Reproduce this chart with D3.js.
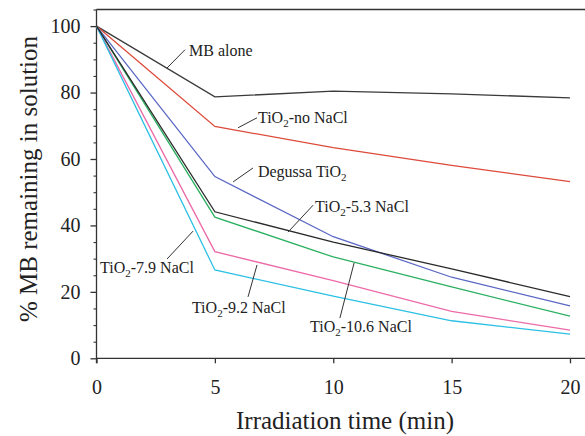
<!DOCTYPE html>
<html>
<head>
<meta charset="utf-8">
<script src="https://cdn.jsdelivr.net/npm/d3@7/dist/d3.min.js"></script>
<style>
  html, body { margin: 0; padding: 0; background: #fff; }
  svg { display: block; }
  svg text { font-family: "Liberation Serif", "Tinos", "Times New Roman", "DejaVu Serif", serif !important; fill: #222; }
</style>
</head>
<body>
<svg id="chart" width="585" height="436"></svg>
<script>
// ---- data ----
const times = [0, 5, 10, 15, 20];
const mbAlone   = [100, 78.7, 80.4, 79.6, 78.4];
const noNaCl    = [100, 69.8, 63.4, 58.1, 53.2];
const degussa   = [100, 54.7, 36.6, 24.4, 15.8];
const nacl53    = [100, 44.1, 35.0, 26.9, 18.6];
const nacl79    = [100, 26.6, 18.7, 11.3, 7.3];
const nacl92    = [100, 32.1, 23.4, 14.1, 8.5];
const nacl106   = [100, 42.5, 30.5, 21.5, 12.7];
const xTicks = [0, 5, 10, 15, 20];
const yTicks = [0, 20, 40, 60, 80, 100];
const yMinorTicks = [5, 10, 15, 25, 30, 35, 45, 50, 55, 65, 70, 75, 85, 90, 95, 105];

const series = [
  { name: "MB alone", values: mbAlone, color: "#3a3a3a" },
  { name: "TiO2-no NaCl", values: noNaCl, color: "#dd4a3a" },
  { name: "Degussa TiO2", values: degussa, color: "#5a67c4" },
  { name: "TiO2-10.6 NaCl", values: nacl106, color: "#2bb060" },
  { name: "TiO2-9.2 NaCl", values: nacl92, color: "#ec6aa8" },
  { name: "TiO2-7.9 NaCl", values: nacl79, color: "#2cc0e4" },
  { name: "TiO2-5.3 NaCl", values: nacl53, color: "#2a2a2a" }
];

// annotations: label parts [main, subscript, rest], text anchor and leader in data units
const annotations = [
  { parts: ["MB alone", "", ""], tx: 3.91, ty: 91.0, l: [2.98, 87.4, 3.74, 92.9] },
  { parts: ["TiO", "2", "-no NaCl"], tx: 6.82, ty: 70.9, l: [5.98, 69.4, 6.78, 72.4] },
  { parts: ["Degussa TiO", "2", ""], tx: 6.82, ty: 54.6, l: [5.77, 53.1, 6.61, 57.3] },
  { parts: ["TiO", "2", "-5.3 NaCl"], tx: 9.23, ty: 44.0, l: [8.09, 38.0, 9.15, 46.1] },
  { parts: ["TiO", "2", "-7.9 NaCl"], tx: 0.15, ty: 25.7, l: [2.98, 29.9, 4.08, 38.3] },
  { parts: ["TiO", "2", "-9.2 NaCl"], tx: 4.03, ty: 13.6, l: [6.40, 18.5, 6.78, 28.1] },
  { parts: ["TiO", "2", "-10.6 NaCl"], tx: 9.02, ty: 7.9, l: [10.28, 12.1, 10.88, 28.7] }
];

// ---- layout ----
const svg = d3.select("#chart");
const mLeft = 96.5, mRight = 570, mTop = 9.5, mBottom = 358.3;
const x = d3.scaleLinear().domain([0, 20]).range([mLeft, mRight]);
const y = d3.scaleLinear().domain([0, 105]).range([mBottom, mTop]);
const axisColor = "#333";

// top border
svg.append("line").attr("x1", mLeft).attr("x2", 585).attr("y1", mTop).attr("y2", mTop)
  .attr("stroke", axisColor).attr("stroke-width", 1.3);

// x axis
const gx = svg.append("g").attr("transform", `translate(0,${mBottom})`)
  .call(d3.axisBottom(x).tickValues(xTicks).tickSize(5).tickSizeOuter(0).tickPadding(17));
gx.attr("font-family", null).attr("font-size", null);
gx.select(".domain").attr("d", `M${mLeft},0H585`);
gx.selectAll("path, line").attr("stroke", axisColor).attr("stroke-width", 1.3);
gx.selectAll("text").style("font-size", "20px").attr("fill", "#222");

// y axis
const gy = svg.append("g").attr("transform", `translate(${mLeft},0)`)
  .call(d3.axisLeft(y).tickValues(yTicks).tickSize(6).tickSizeOuter(0).tickPadding(10));
gy.attr("font-family", null).attr("font-size", null);
gy.select(".domain").attr("d", `M0,${mTop}V${mBottom + 5}`);
gy.selectAll("path, line").attr("stroke", axisColor).attr("stroke-width", 1.3);
gy.selectAll("text").style("font-size", "20px").attr("fill", "#222");
const gyMinor = svg.append("g").attr("transform", `translate(${mLeft},0)`)
  .call(d3.axisLeft(y).tickValues(yMinorTicks).tickSize(3).tickSizeOuter(0).tickFormat(""));
gyMinor.select(".domain").remove();
gyMinor.selectAll("line").attr("stroke", axisColor).attr("stroke-width", 1.1);

// axis titles
svg.append("text").attr("x", 345).attr("y", 429).attr("text-anchor", "middle")
  .style("font-size", "25px").text("Irradiation time (min)");
svg.append("text").attr("transform", `translate(37,179) rotate(-90)`).attr("text-anchor", "middle")
  .style("font-size", "25px").text("% MB remaining in solution");

// lines
const line = d3.line().x((d, i) => x(times[i])).y(d => y(d));
svg.append("g").selectAll("path").data(series).join("path")
  .attr("d", d => line(d.values))
  .attr("fill", "none")
  .attr("stroke", d => d.color)
  .attr("stroke-width", 1.3);

// annotations
const ga = svg.append("g");
annotations.forEach(a => {
  ga.append("line")
    .attr("x1", x(a.l[0])).attr("y1", y(a.l[1]))
    .attr("x2", x(a.l[2])).attr("y2", y(a.l[3]))
    .attr("stroke", "#333").attr("stroke-width", 1);
  const t = ga.append("text").attr("x", x(a.tx)).attr("y", y(a.ty)).style("font-size", "16px");
  t.append("tspan").text(a.parts[0]);
  if (a.parts[1]) {
    t.append("tspan").attr("dy", 4).style("font-size", "11px").text(a.parts[1]);
    if (a.parts[2]) t.append("tspan").attr("dy", -4).text(a.parts[2]);
  }
});
</script>
</body>
</html>
